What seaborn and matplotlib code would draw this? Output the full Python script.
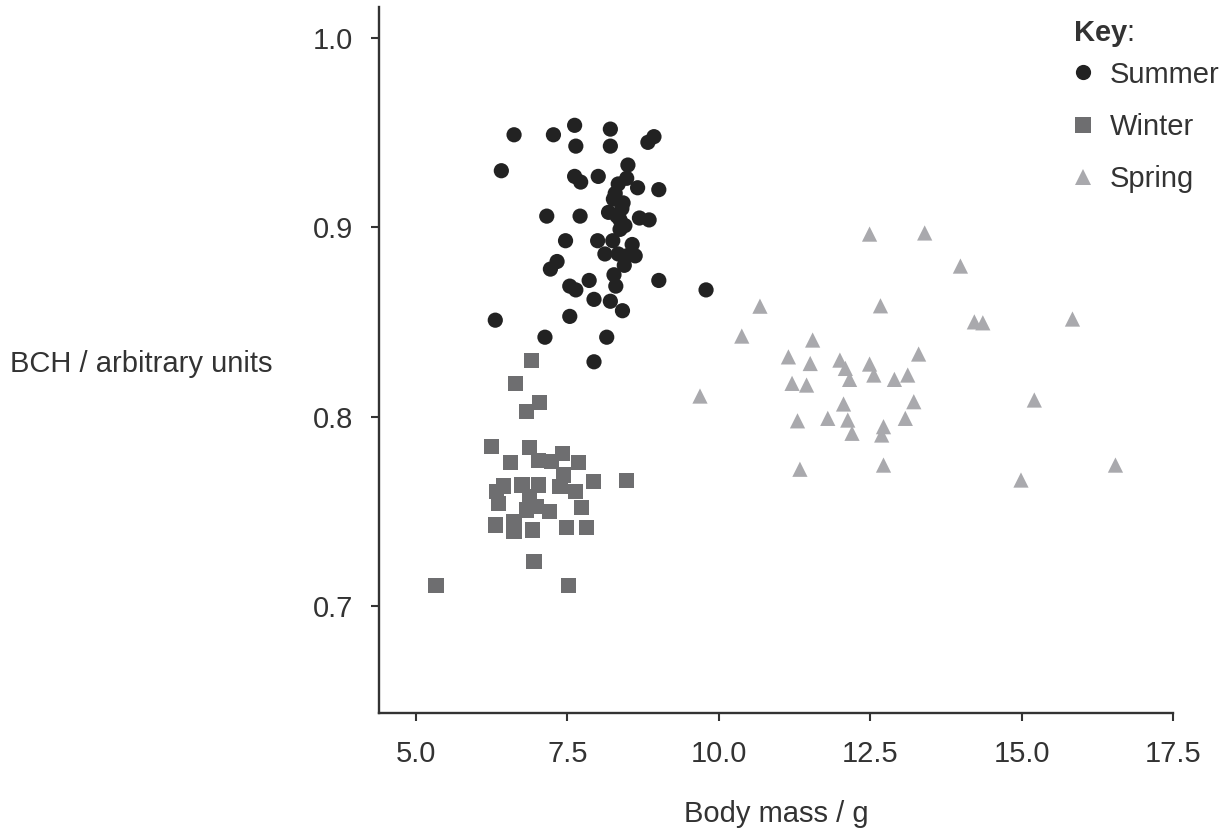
import matplotlib
matplotlib.use("Agg")
import matplotlib.pyplot as plt
import seaborn as sns
import pandas as pd

# ---- data ----
summer_mass = [6.62, 7.27, 7.62, 8.21, 8.93, 8.83, 7.64, 8.21, 8.50, 6.41,
               7.62, 7.72, 8.01, 8.48, 8.34, 8.66, 9.01, 8.29, 8.26, 8.42,
               8.40, 8.18, 7.16, 7.71, 8.32, 8.37, 8.45, 8.37, 8.69, 8.85,
               7.47, 8.00, 8.25, 8.57, 8.12, 8.34, 8.48, 8.62, 8.44, 7.33,
               7.22, 9.01, 8.27, 8.30, 7.86, 7.54, 7.64, 7.94, 8.21, 8.41,
               9.79, 6.31, 7.54, 7.13, 8.15, 7.94]
summer_bch = [0.949, 0.949, 0.954, 0.952, 0.948, 0.945, 0.943, 0.943, 0.933, 0.930,
              0.927, 0.924, 0.927, 0.926, 0.923, 0.921, 0.920, 0.918, 0.915, 0.913,
              0.910, 0.908, 0.906, 0.906, 0.906, 0.904, 0.901, 0.899, 0.905, 0.904,
              0.893, 0.893, 0.893, 0.891, 0.886, 0.886, 0.885, 0.885, 0.880, 0.882,
              0.878, 0.872, 0.875, 0.869, 0.872, 0.869, 0.867, 0.862, 0.861, 0.856,
              0.867, 0.851, 0.853, 0.842, 0.842, 0.829]

winter_mass = [6.91, 6.64, 7.04, 6.82, 6.25, 6.88, 6.56, 7.42, 7.02, 7.24,
               7.68, 7.43, 7.93, 8.48, 6.44, 6.33, 6.75, 7.02, 7.38, 7.63,
               6.36, 6.88, 6.83, 6.99, 7.21, 7.74, 6.32, 6.62, 6.62, 6.93,
               7.49, 7.82, 6.95, 5.33, 7.52]
winter_bch = [0.8295, 0.8176, 0.8073, 0.8026, 0.7841, 0.7838, 0.7759, 0.7806, 0.7767, 0.7762,
              0.7756, 0.7692, 0.7656, 0.7661, 0.7633, 0.7603, 0.7639, 0.7639, 0.7630, 0.7603,
              0.7542, 0.7577, 0.7507, 0.7524, 0.7498, 0.7521, 0.7427, 0.7445, 0.7392, 0.7401,
              0.7415, 0.7415, 0.7234, 0.7107, 0.7107]

spring_mass = [12.49, 13.40, 13.99, 10.68, 12.67, 10.38, 11.55, 11.15, 11.51, 12.00,
               12.09, 12.16, 12.49, 12.56, 13.30, 13.12, 12.90, 11.21, 11.45, 9.69,
               12.06, 13.22, 11.80, 12.13, 13.08, 11.30, 12.72, 12.20, 12.69, 11.34,
               12.72, 14.22, 14.36, 15.84, 15.21, 16.55, 14.99]
spring_bch = [0.8965, 0.8971, 0.8796, 0.8584, 0.8586, 0.8426, 0.8405, 0.8316, 0.8281, 0.8299,
              0.8255, 0.8197, 0.8278, 0.8220, 0.8331, 0.8220, 0.8197, 0.8176, 0.8167, 0.8109,
              0.8067, 0.8079, 0.7991, 0.7982, 0.7991, 0.7978, 0.7947, 0.7912, 0.7903, 0.7722,
              0.7744, 0.8501, 0.8496, 0.8516, 0.8088, 0.7744, 0.7665]

seasons = ["Summer", "Winter", "Spring"]
x_ticks = [5.0, 7.5, 10.0, 12.5, 15.0, 17.5]
y_ticks = [0.7, 0.8, 0.9, 1.0]

df = pd.DataFrame({
    "mass": summer_mass + winter_mass + spring_mass,
    "bch": summer_bch + winter_bch + spring_bch,
    "season": (["Summer"] * len(summer_mass) + ["Winter"] * len(winter_mass)
               + ["Spring"] * len(spring_mass)),
})

# ---- style ----
sns.set_style("ticks")
plt.rcParams["font.family"] = ["Liberation Sans", "DejaVu Sans"]
plt.rcParams["mathtext.fontset"] = "custom"
plt.rcParams["mathtext.rm"] = "Liberation Sans"
plt.rcParams["mathtext.bf"] = "Liberation Sans:bold"

FS = 21
text_col = "#333333"
palette = {"Summer": "#222222", "Winter": "#6e6e70", "Spring": "#a9a9ad"}
markers = {"Summer": "o", "Winter": "s", "Spring": "^"}

fig = plt.figure(figsize=(12.31, 8.30), dpi=100)
ax = fig.add_axes([379 / 1231, 1 - 713.3 / 830, (1173 - 379) / 1231, (713.3 - 6.7) / 830])

sns.scatterplot(data=df, x="mass", y="bch", hue="season", style="season",
                hue_order=seasons, style_order=seasons,
                palette=palette, markers=markers, s=120, linewidth=0,
                ax=ax, legend=True)

ax.set_xlim(4.39, 17.5)
ax.set_ylim(0.6432, 1.0167)
ax.set_xticks(x_ticks)
ax.set_xticklabels([f"{v:.1f}" for v in x_ticks])
ax.set_yticks(y_ticks)
ax.set_yticklabels([f"{v:.1f}" for v in y_ticks])

for side in ["top", "right"]:
    ax.spines[side].set_visible(False)
for side in ["left", "bottom"]:
    ax.spines[side].set_linewidth(1.7)
    ax.spines[side].set_color(text_col)

ax.tick_params(axis="both", length=5.5, width=1.5, color=text_col,
               labelsize=FS, labelcolor=text_col)
ax.tick_params(axis="x", pad=13.5)
ax.tick_params(axis="y", pad=13)

ax.set_xlabel("Body mass / g", fontsize=FS, color=text_col, labelpad=23)
ax.set_ylabel("BCH / arbitrary units", fontsize=FS, color=text_col,
              rotation=0, ha="left", va="center")
ax.yaxis.set_label_coords(-369 / 794, 0.495)

# legend: title drawn as separate text, entries via seaborn's legend
sns.move_legend(ax, "upper left", bbox_to_anchor=(1054 / 1231, 1 - 46 / 830),
                bbox_transform=fig.transFigure, frameon=False, title=None,
                fontsize=FS, borderpad=0, handlelength=1.0, handletextpad=0.4,
                labelspacing=0.83)
leg = ax.get_legend()
for t in leg.get_texts():
    t.set_color(text_col)
fig.text(1073 / 1231, 1 - 34 / 830, r"$\mathbf{Key}$:", fontsize=FS,
         color=text_col, ha="left", va="center")

fig.savefig("out.png", dpi=100)
